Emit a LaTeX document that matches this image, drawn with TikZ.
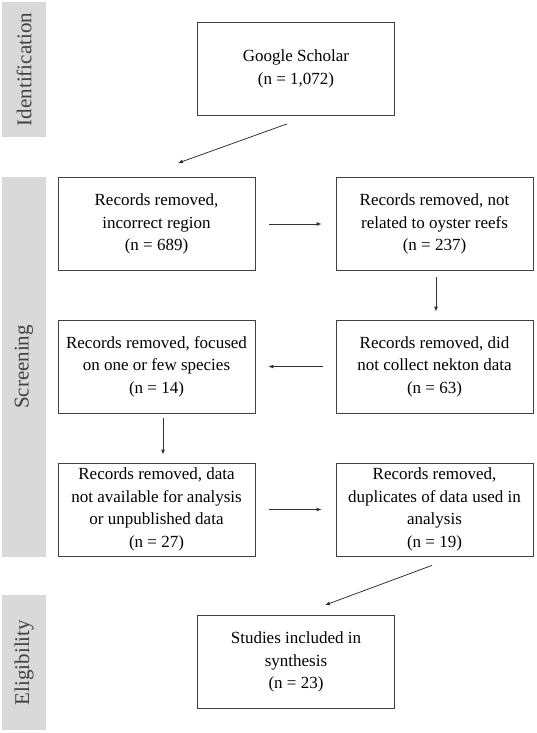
\documentclass[tikz,border=0pt]{standalone}
\usepackage{fontspec}
\setmainfont{Liberation Serif}
\usetikzlibrary{arrows.meta}
\definecolor{bandgray}{HTML}{D9D9D9}
\definecolor{bandtext}{HTML}{404040}
\tikzset{
recbox/.style={draw=black!75,line width=0.8pt,minimum width=197pt,minimum height=93pt,inner sep=0pt,align=center,font=\fontsize{17}{22.5}\selectfont},
band/.style={fill=bandgray,draw=none,rotate=90,minimum height=44pt,inner sep=0pt,text=bandtext,font=\fontsize{21}{24}\selectfont},
flow/.style={draw=black!80,line width=0.8pt,-{Latex[length=5pt,width=4pt]}}
}
\begin{document}
\begin{tikzpicture}[x=1pt,y=-1pt]
\useasboundingbox (0,0) rectangle (536,733);
\node[band,minimum width=135pt] (idband) at (24,69.5) {Identification};
\node[band,minimum width=380pt] (scband) at (24,367) {Screening};
\node[band,minimum width=135pt] (elband) at (24,662.5) {Eligibility};

\node[recbox] (gs) at (296,69) {Google Scholar\\(n = 1,072)};
\node[recbox] (r1) at (156.5,224) {Records removed,\\incorrect region\\(n = 689)};
\node[recbox] (r2) at (434.5,224) {Records removed, not\\related to oyster reefs\\(n = 237)};
\node[recbox] (r3) at (434.5,366.5) {Records removed, did\\not collect nekton data\\(n = 63)};
\node[recbox] (r4) at (156.5,366.5) {Records removed, focused\\on one or few species\\(n = 14)};
\node[recbox] (r5) at (156.5,509.5) {Records removed, data\\not available for analysis\\or unpublished data\\(n = 27)};
\node[recbox] (r6) at (434.5,509.5) {Records removed,\\duplicates of data used in\\analysis\\(n = 19)};
\node[recbox] (fin) at (296,662) {Studies included in\\synthesis\\(n = 23)};

\draw[flow] ([shift={(-9,8)}]gs.south) -- ([shift={(21.5,-14)}]r1.north);
\draw[flow,shorten <=14pt,shorten >=14pt] (r1.east) -- (r2.west);
\draw[flow,shorten <=6pt,shorten >=8pt] ([xshift=1.5pt]r2.south) -- ([xshift=1.5pt]r3.north);
\draw[flow,shorten <=13pt,shorten >=13pt] (r3.west) -- (r4.west-|r4.east);
\draw[flow,shorten <=5pt,shorten >=8pt] ([xshift=6.5pt]r4.south) -- ([xshift=6.5pt]r5.north);
\draw[flow,shorten <=14pt,shorten >=14pt] (r5.east) -- (r6.west);
\draw[flow] ([shift={(-2.5,9)}]r6.south) -- ([shift={(29,-10)}]fin.north);
\end{tikzpicture}
\end{document}
